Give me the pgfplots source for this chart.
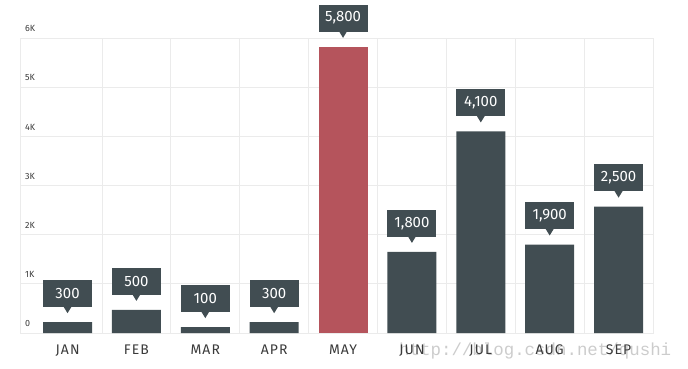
\documentclass[border=0pt]{standalone}
\usepackage{fontspec}
\setmainfont{Fira Sans}
\newfontfamily\wmfont{Liberation Mono}
\usepackage{pgfplots}
\pgfplotsset{compat=1.18}
\definecolor{bardark}{HTML}{414D52}
\definecolor{barred}{HTML}{B5545C}
\definecolor{gridc}{HTML}{EBEBEB}
\definecolor{txt}{HTML}{3A3A3A}
\pgfplotstableread{
x y lab
0 220 300
1 470 500
2 120 100
3 220 300
5 1650 1,800
6 4100 4,100
7 1800 1,900
8 2570 2,500
}\darkdata
\pgfplotstableread{
x y lab
4 5820 5,800
}\reddata
\begin{document}
\begin{tikzpicture}
\path[use as bounding box] (0,0) rectangle (688bp,369bp);
\node[anchor=base west, text=black!20, font=\wmfont\fontsize{17.5}{17.5}\selectfont, inner sep=0] at (399bp,14bp) {http://blog.csdn.net/qushi};
\begin{axis}[
  at={(20bp,36bp)}, anchor=south west,
  width=633bp, height=295bp, scale only axis,
  xmin=-0.69, xmax=8.5, ymin=0, ymax=6000,
  axis line style={draw=gridc},
  ymajorgrids, grid style={draw=gridc, line width=0.8bp},
  xtick={0,...,8},
  xticklabels={JAN,FEB,MAR,APR,MAY,JUN,JUL,AUG,SEP},
  minor xtick={0.5,1.5,...,7.5},
  xminorgrids, minor grid style={draw=gridc, line width=0.8bp},
  ytick={0,1000,...,6000},
  yticklabels={0,1K,2K,3K,4K,5K,\raisebox{-6bp}{6K}},
  major tick length=0, minor tick length=0,
  xticklabel style={anchor=base, yshift=-21bp, text=txt,
    font=\fontsize{14}{14}\selectfont\addfontfeature{LetterSpace=8}},
  yticklabel style={anchor=south west, inner sep=0, xshift=5bp, yshift=6bp, text=txt,
    font=\fontsize{9}{9}\selectfont},
  ybar, bar width=49bp, bar shift=0pt,
  clip=false,
  point meta=explicit symbolic,
  nodes near coords,
  nodes near coords style={fill=bardark, text=white,
    font=\fontsize{15}{15}\selectfont, minimum width=49bp, minimum height=27bp,
    inner sep=0, anchor=south, yshift=15bp,
    append after command={\pgfextra{\fill[bardark] ([xshift=-4bp,yshift=0.5bp]\tikzlastnode.south) -- ++(8bp,0bp) -- ++(-4bp,-6.5bp) -- cycle;}}},
]
\addplot[draw=none, fill=bardark] table[x=x, y=y, meta=lab] {\darkdata};
\addplot[draw=none, fill=barred] table[x=x, y=y, meta=lab] {\reddata};
\end{axis}
\end{tikzpicture}
\end{document}
